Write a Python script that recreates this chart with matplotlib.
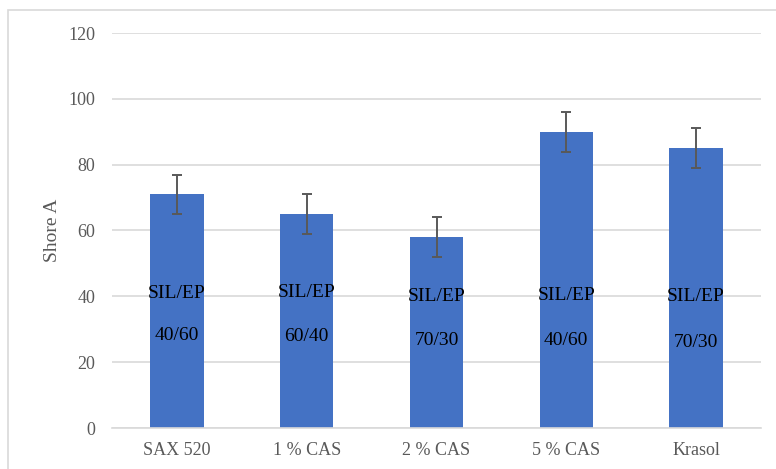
import matplotlib
matplotlib.use("Agg")
import matplotlib.pyplot as plt
import matplotlib.patheffects as pe
from matplotlib.patches import Rectangle

categories = ["SAX 520", "1 % CAS", "2 % CAS", "5 % CAS", "Krasol"]
shore_a = [71, 65, 58, 90, 85]
errors = [6, 6, 6, 6, 6]
ratios = ["40/60", "60/40", "70/30", "40/60", "70/30"]
inner_label = "SIL/EP"
yticks = [0, 20, 40, 60, 80, 100, 120]

plt.rcParams['font.family'] = ['Liberation Serif', 'DejaVu Serif']

W, H = 776, 469
fig = plt.figure(figsize=(W / 100, H / 100), dpi=100)
ax = fig.add_axes([112 / W, 1 - 428 / H, (761 - 112) / W, (428 - 33) / H])

x = list(range(len(categories)))
ax.bar(x, shore_a, width=0.41, color="#4472C4", zorder=2,
       yerr=errors, error_kw=dict(ecolor="#595959", elinewidth=1.4,
                                  capsize=3.8, capthick=1.4, zorder=3))

label_y1 = [41, 41.3, 40, 40.4, 39.8]
label_y2 = [28, 27.7, 26.7, 26.7, 26.1]
for i in x:
    ax.text(i, label_y1[i], inner_label, ha="center", va="center",
            fontsize=14, color="black", zorder=4)
    ax.text(i, label_y2[i], ratios[i], ha="center", va="center",
            fontsize=14, color="black", zorder=4)

ax.set_xlim(-0.5, len(categories) - 0.5)
ax.set_ylim(0, 120)
ax.set_yticks(yticks)
ax.set_xticks(x)
ax.set_xticklabels(categories)
ax.tick_params(axis="both", length=0, labelsize=13, colors="#595959")
ax.tick_params(axis="x", pad=10)
ax.tick_params(axis="y", pad=12)
ax.yaxis.grid(True, color="#D9D9D9", linewidth=1.2, zorder=0)
ax.set_axisbelow(True)
for s in ["top", "right", "left"]:
    ax.spines[s].set_visible(False)
ax.spines["bottom"].set_color("#D9D9D9")
ax.spines["bottom"].set_linewidth(1.2)

ax.set_ylabel("Shore A", fontsize=14, color="#595959", labelpad=5)

fig.patches.append(Rectangle((8 / W, -0.1), 1.2, 1 - 10 / H + 0.1,
                             transform=fig.transFigure, fill=False,
                             edgecolor="#D9D9D9", linewidth=1.2))

fig.savefig("out.png", dpi=100)
